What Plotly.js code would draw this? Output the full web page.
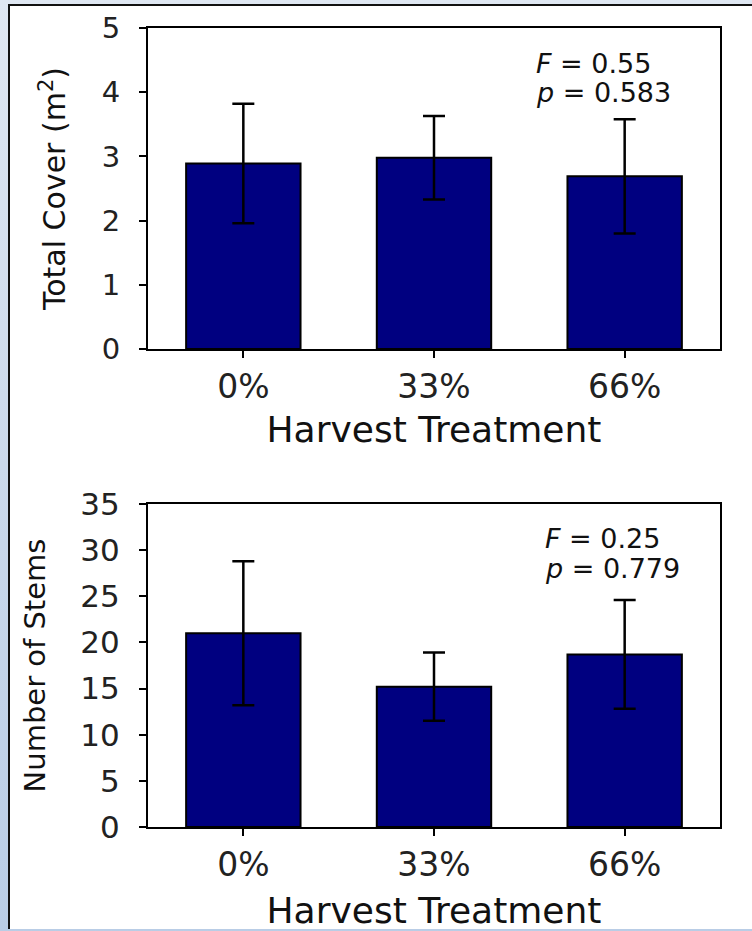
<!DOCTYPE html>
<html>
<head>
<meta charset="utf-8">
<script src="https://cdn.plot.ly/plotly-3.0.1.min.js"></script>
<style>
  html, body { margin: 0; padding: 0; }
  body {
    width: 752px; height: 931px; overflow: hidden; position: relative;
    background: linear-gradient(to bottom, #dfe7f2 0%, #cbd9eb 50%, #b9cde6 100%);
  }
  #panel {
    position: absolute; left: 8px; top: 4px; right: 0; bottom: 2px;
    background: #ffffff; border-left: 2px solid #111; border-top: 2px solid #111;
  }
  #chart { position: absolute; left: 0; top: 0; width: 752px; height: 931px; }
</style>
</head>
<body>
<div id="panel"></div>
<div id="chart"></div>
<script>
// ---- data ----
const categories = ['0%', '33%', '66%'];
const coverMean = [2.89, 2.98, 2.69];
const coverErr  = [0.93, 0.65, 0.89];
const stemsMean = [21.0, 15.2, 18.7];
const stemsErr  = [7.8, 3.7, 5.9];
const coverTicks = [0, 1, 2, 3, 4, 5];
const stemsTicks = [0, 5, 10, 15, 20, 25, 30, 35];
const coverStats = ['<i>F</i> = 0.55', '<i>p</i> = 0.583'];
const stemsStats = ['<i>F</i> = 0.25', '<i>p</i> = 0.779'];

const FONT = 'DejaVu Sans, Liberation Sans, Arial, sans-serif';
const W = 752, H = 931;
const px = v => v / W;
const py = v => 1 - v / H;

function barTrace(y, err, xa, ya) {
  return {
    type: 'bar', x: categories, y: y, xaxis: xa, yaxis: ya,
    width: 0.6,
    marker: { color: '#000080', line: { color: '#000000', width: 2 } },
    error_y: { type: 'data', array: err, visible: true, color: '#000000', thickness: 2.5, width: 11 },
    hoverinfo: 'x+y', showlegend: false
  };
}

const data = [
  barTrace(coverMean, coverErr, 'x', 'y'),
  barTrace(stemsMean, stemsErr, 'x2', 'y2')
];

function xAxis(anchor, so) {
  return {
    domain: [px(148), px(720)], anchor: anchor,
    type: 'category', range: [-0.5, 2.5], fixedrange: true,
    showline: true, linecolor: '#000', linewidth: 2, mirror: true,
    ticks: 'outside', ticklen: 7, tickwidth: 2, tickcolor: '#000',
    ticklabelstandoff: 0,
    tickfont: { family: FONT, size: 33, color: '#222' },
    showgrid: false, zeroline: false, automargin: false,
    title: { text: 'Harvest Treatment', font: { family: FONT, size: 36, color: '#111' }, standoff: so }
  };
}
function yAxis(anchor, dom, range, ticks, title, fs, tfs, so) {
  return {
    domain: dom, anchor: anchor, range: range, fixedrange: true,
    tickvals: ticks, ticktext: ticks.map(String),
    showline: true, linecolor: '#000', linewidth: 2, mirror: true,
    ticks: 'outside', ticklen: 7, tickwidth: 2, tickcolor: '#000',
    ticklabelstandoff: 13,
    tickfont: { family: FONT, size: fs, color: '#222' },
    showgrid: false, zeroline: false, automargin: false,
    title: { text: title, font: { family: FONT, size: tfs, color: '#111' }, standoff: so }
  };
}

function stat(lines, x, y1, y2) {
  return [
    { xref: 'paper', yref: 'paper', x: px(x), y: py(y1), xanchor: 'left', yanchor: 'middle',
      text: lines[0], showarrow: false, font: { family: FONT, size: 27, color: '#111' } },
    { xref: 'paper', yref: 'paper', x: px(x), y: py(y2), xanchor: 'left', yanchor: 'middle',
      text: lines[1], showarrow: false, font: { family: FONT, size: 27, color: '#111' } }
  ];
}

const layout = {
  width: W, height: H,
  margin: { l: 0, r: 0, t: 0, b: 0 },
  paper_bgcolor: 'rgba(0,0,0,0)',
  plot_bgcolor: '#ffffff',
  showlegend: false,
  bargap: 0.4,
  xaxis: xAxis('y', 12),
  yaxis: yAxis('x', [py(349), py(28)], [0, 5], coverTicks, 'Total Cover (m<sup>2</sup>)', 29, 30, 27),
  xaxis2: xAxis('y2', 20),
  yaxis2: yAxis('x2', [py(827), py(504)], [0, 35], stemsTicks, 'Number of Stems', 31, 29, 26),
  annotations: [].concat(
    stat(coverStats, 534, 63.5, 92.5),
    stat(stemsStats, 543, 538.5, 568.5)
  )
};

Plotly.newPlot('chart', data, layout, { displayModeBar: false });
</script>
</body>
</html>
